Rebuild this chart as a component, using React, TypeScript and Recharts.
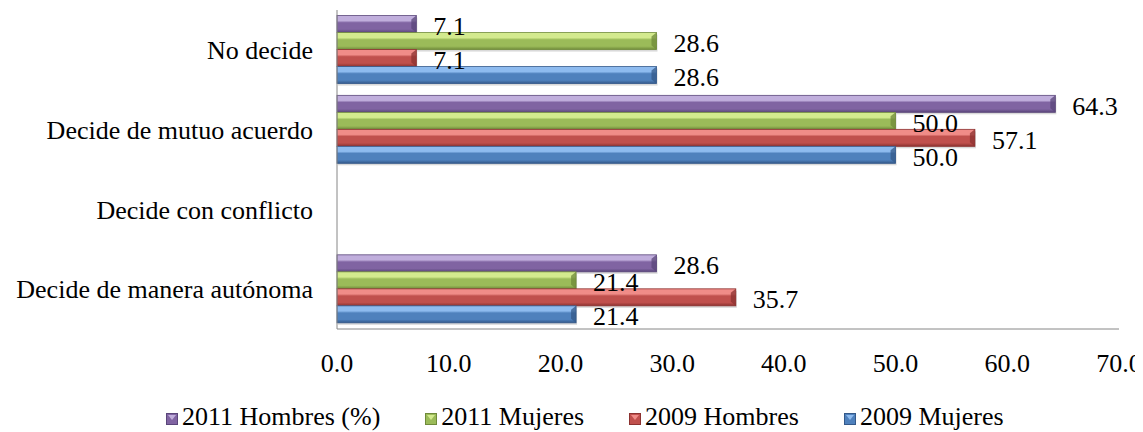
import React from "react";
import { Bar, BarChart, LabelList, Legend, XAxis, YAxis } from "recharts";

const categories = [
  "No decide",
  "Decide de mutuo acuerdo",
  "Decide con conflicto",
  "Decide de manera autónoma",
];

// "Decide con conflicto" has no values in the source
const hombres2011 = [7.1, 64.3, null, 28.6];
const mujeres2011 = [28.6, 50.0, null, 21.4];
const hombres2009 = [7.1, 57.1, null, 35.7];
const mujeres2009 = [28.6, 50.0, null, 21.4];

const xTicks = [0, 10, 20, 30, 40, 50, 60, 70];

const series = [
  { key: "h2011", name: "2011 Hombres (%)", color: "#8064A2", light: "#C0AEDC", dark: "#5A467A" },
  { key: "m2011", name: "2011 Mujeres", color: "#9BBB59", light: "#D3EA8E", dark: "#6F8A3A" },
  { key: "h2009", name: "2009 Hombres", color: "#C0504D", light: "#F08C88", dark: "#8C3230" },
  { key: "m2009", name: "2009 Mujeres", color: "#4F81BD", light: "#8EBBEF", dark: "#34598A" },
];

const data = categories.map((category, i) => ({
  category,
  h2011: hombres2011[i],
  m2011: mujeres2011[i],
  h2009: hombres2009[i],
  m2009: mujeres2009[i],
}));

const FONT = '"Liberation Serif", "Times New Roman", serif';

function makeShape(s: (typeof series)[number]) {
  return (props: any) => {
    const { x, y, width, height, index } = props;
    if (!width || width <= 0) return null;
    const id = `grad-${s.key}-${index}`;
    const b = Math.min(5, width / 2);
    return (
      <g>
        <defs>
          <linearGradient id={id} x1="0" y1="0" x2="0" y2="1">
            <stop offset="0%" stopColor={s.light} />
            <stop offset="30%" stopColor={s.light} />
            <stop offset="42%" stopColor={s.color} />
            <stop offset="80%" stopColor={s.color} />
            <stop offset="100%" stopColor={s.dark} />
          </linearGradient>
        </defs>
        <rect x={x + 1} y={y + 2} width={width} height={height} fill="#000" opacity={0.15} />
        <rect x={x} y={y} width={width} height={height} fill={`url(#${id})`} />
        <polygon
          points={`${x + width - b},${y + 4} ${x + width},${y} ${x + width},${y + height} ${x + width - b},${y + height - 4}`}
          fill={s.dark}
          opacity={0.75}
        />
        <rect x={x} y={y} width={width} height={height} fill="none" stroke={s.dark} strokeWidth={0.8} />
      </g>
    );
  };
}

const renderValue = (props: any) => {
  const { x, y, width, height, value } = props;
  if (value === null || value === undefined) return null;
  return (
    <text
      x={x + width + 17}
      y={y + height / 2 + 11}
      fontSize={26}
      fontFamily={FONT}
      fill="#000"
    >
      {Number(value).toFixed(1)}
    </text>
  );
};

const renderLegend = () => (
  <div
    style={{
      display: "flex",
      alignItems: "center",
      height: 30,
      paddingLeft: 158,
      paddingTop: 3,
      fontFamily: FONT,
      fontSize: 26,
      color: "#000",
      boxSizing: "border-box",
    }}
  >
    {series.map((s) => (
      <div key={s.key} style={{ display: "flex", alignItems: "center", marginRight: 45 }}>
        <svg width={12} height={12} style={{ marginRight: 4, marginTop: 4 }}>
          <rect x={0} y={0} width={12} height={12} fill={s.color} />
          <polygon points="2,2 10,2 6,7" fill={s.light} />
          <rect x={0.5} y={0.5} width={11} height={11} fill="none" stroke={s.dark} />
        </svg>
        <span style={{ whiteSpace: "nowrap", lineHeight: "30px" }}>{s.name}</span>
      </div>
    ))}
  </div>
);

export default function App() {
  return (
    <div style={{ width: 1135, height: 424 }}>
      <BarChart
        width={1135}
        height={424}
        data={data}
        layout="vertical"
        margin={{ top: 2, right: 24, left: 0, bottom: 2 }}
        barCategoryGap="7%"
        barGap={0}
      >
        <XAxis
          type="number"
          domain={[0, 70]}
          ticks={xTicks}
          tickFormatter={(v: number) => v.toFixed(1)}
          axisLine={{ stroke: "#868686" }}
          tickLine={false}
          tickSize={0}
          tickMargin={25}
          height={71}
          tick={{ fontSize: 26, fill: "#000", fontFamily: FONT }}
        />
        <YAxis
          type="category"
          dataKey="category"
          width={329}
          axisLine={{ stroke: "#868686" }}
          tickLine={false}
          tickSize={0}
          tickMargin={24}
          tick={{ fontSize: 26, fill: "#000", fontFamily: FONT }}
        />
        <Legend verticalAlign="bottom" content={renderLegend} wrapperStyle={{ left: 0, width: 1135 }} />
        {series.map((s) => (
          <Bar
            key={s.key}
            dataKey={s.key}
            name={s.name}
            fill={s.color}
            shape={makeShape(s)}
            isAnimationActive={false}
          >
            <LabelList dataKey={s.key} content={renderValue} />
          </Bar>
        ))}
      </BarChart>
    </div>
  );
}
